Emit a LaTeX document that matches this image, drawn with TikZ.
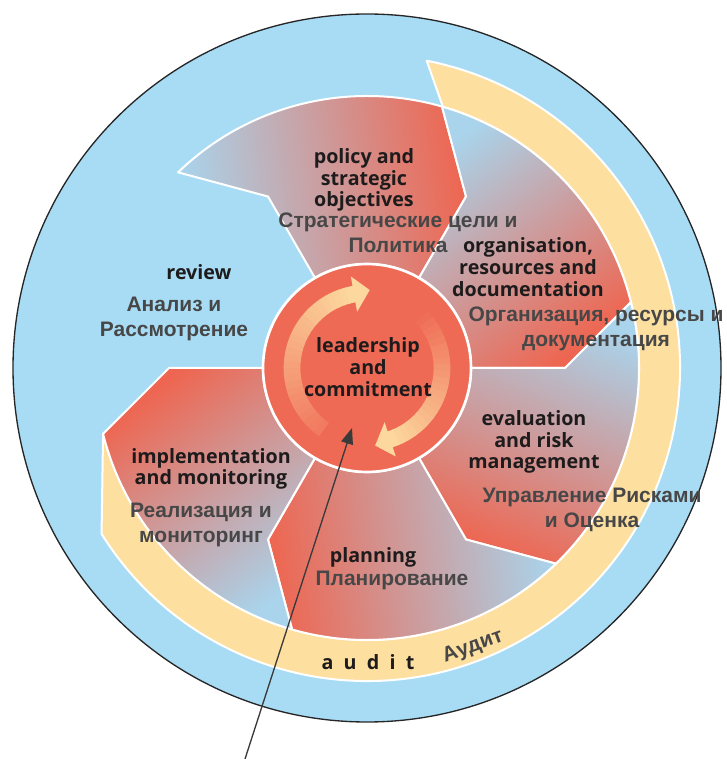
\documentclass[tikz,border=0pt]{standalone}
\usepackage{fontspec}
\setmainfont{Liberation Sans}
\newfontfamily\engfont{Open Sans}
\usetikzlibrary{arrows.meta}
\definecolor{skyblue}{HTML}{A8DCF5}
\definecolor{audityel}{HTML}{FDDF9F}
\definecolor{bladered}{HTML}{EE6651}
\definecolor{bladegray}{HTML}{C4B0B3}
\definecolor{bladeblue}{HTML}{A9D4EC}
\definecolor{leadred}{HTML}{EF6A55}
\definecolor{arrowpale}{HTML}{FCD89E}
\definecolor{engtext}{HTML}{1E1B1C}
\definecolor{rustext}{HTML}{474747}
\definecolor{ptrgray}{HTML}{3A3A3A}
\begin{document}
\begin{tikzpicture}[x=0.3mm,y=0.3mm,line join=round,
  eng/.style={font=\engfont\bfseries\fontsize{16.8}{18.5}\selectfont,text=engtext,align=center,inner sep=0pt},
  rus/.style={font=\bfseries\fontsize{17.9}{21.3}\selectfont,text=rustext,align=center,inner sep=0pt},
  blade/.style={draw=white,line width=0.6mm,bottom color=bladeblue,middle color=bladegray,top color=bladered},
  ring/.style={draw=white,line width=0.6mm,fill=audityel}]
\useasboundingbox (-367,-391) rectangle (359,368);
\draw[fill=skyblue,draw=black!85,line width=0.4mm] (0,0) circle[radius=354];
\draw[ring] (79:313) -- (73.8:272) arc[start angle=73.8,end angle=-166,radius=272] -- (-148:313) arc[start angle=-148,end angle=79,radius=313] -- cycle;
\foreach \t [evaluate=\t as \sa using \t-217] in {134,74,14,-46,-106}
  \shadedraw[blade,shading angle=\sa] ({\t-14}:104) -- ({\t-14}:198) -- (\t:272) arc[start angle=\t,end angle=\t-60,radius=272] -- ({\t-74}:198) -- ({\t-74}:104) arc[start angle=\t-74,end angle=\t-14,radius=104] -- cycle;
\draw[fill=leadred,draw=white,line width=0.8mm] (0,0) circle[radius=104];
\foreach \i in {0,...,26}{
  \pgfmathtruncatemacro\p{15+85*\i/26}
  \draw[arrowpale!\p!leadred,line width=5mm] ({235-5*\i}:75) arc[start angle=235-5*\i,end angle=229.5-5*\i,radius=75];
}
\fill[arrowpale] (100:93) -- (88:78) -- (100:57) -- cycle;
\foreach \i in {0,...,23}{
  \pgfmathtruncatemacro\p{100*\i/23}
  \draw[arrowpale!\p!leadred,line width=5mm] ({48-5*\i}:75) arc[start angle=48-5*\i,end angle=42.5-5*\i,radius=75];
}
\fill[arrowpale] (-72:93) -- (-84:78) -- (-72:57) -- cycle;
\node[eng] (policy) at (-3,188) {policy and\\strategic\\objectives};
\node[rus] (policyru) at (31,135) {Стратегические цели и\\Политика};
\node[eng] (org) at (161,101) {organisation,\\resources and\\documentation};
\node[rus] (orgru) at (229,39) {Организация, ресурсы и\\документация};
\node[eng] (review) at (-168,96) {review};
\node[rus] (reviewru) at (-193,49) {Анализ и\\Рассмотрение};
\node[eng] (lead) at (1,1) {leadership\\and\\commitment};
\node[eng] (eval) at (167,-74) {evaluation\\and risk\\management};
\node[rus] (evalru) at (225,-142) {Управление Рисками\\и Оценка};
\node[eng] (impl) at (-156,-101) {implementation\\and monitoring};
\node[rus] (implru) at (-166,-157) {Реализация и\\мониторинг};
\node[eng] (plan) at (6,-189) {planning};
\node[rus] (planru) at (25,-212) {Планирование};
\node[eng] (audit) at (1,-294) {a\ \ u\ \ d\ \ i\ \ t};
\node[rus,rotate=20] (auditru) at (106,-279) {Аудит};
\coordinate (tail) at (-122,-391);
\coordinate (tip) at (-15,-60);
\draw[ptrgray,line width=0.4mm,-{Triangle[length=4.8mm,width=3.6mm]}] (tail) -- (tip);
\end{tikzpicture}
\end{document}
